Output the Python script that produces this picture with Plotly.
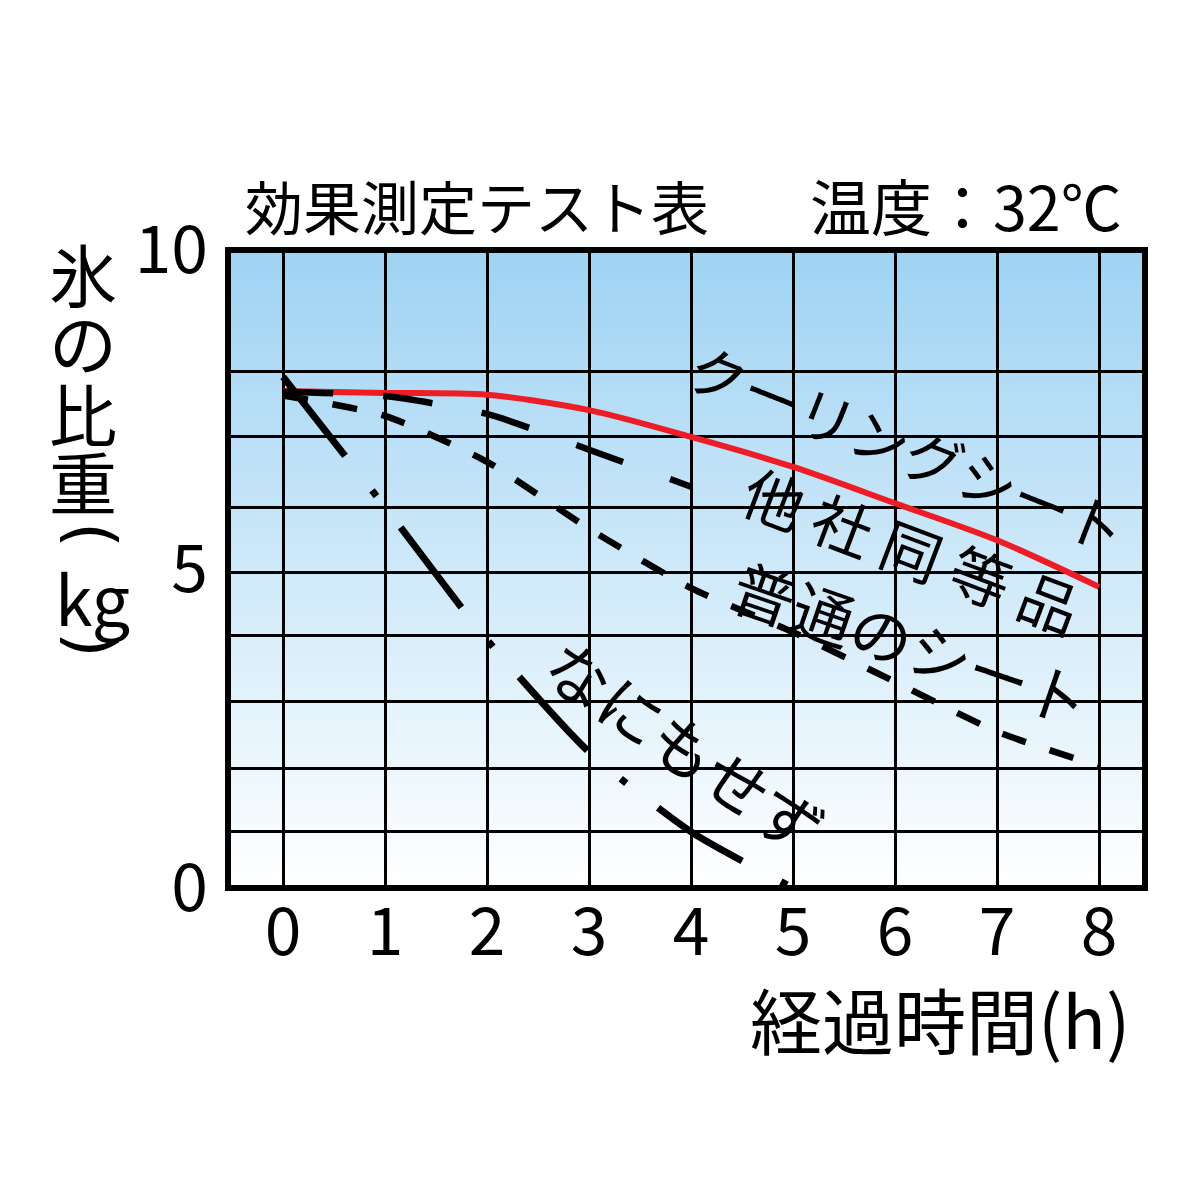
import plotly.graph_objects as go

# ---------------- data ----------------
hours = [0, 1, 2, 3, 4, 5, 6, 7, 8]
cooling_sheet = [7.79, 7.76, 7.73, 7.49, 7.07, 6.60, 6.03, 5.45, 4.72]   # クーリングシート
other_brand = [7.78, 7.71, 7.43, 6.87, 6.29, 5.72, 5.16, 4.60, 4.04]     # 他社同等品
normal_sheet = [7.72, 7.40, 6.68, 5.63, 4.70, 4.01, 3.23, 2.45, 1.91]    # 普通のシート
nothing_hours = [0, 1, 2, 3, 4, 5]
nothing = [8.01, 5.97, 3.89, 2.13, 0.88, 0.0]                             # なにもせず

x_ticks = [0, 1, 2, 3, 4, 5, 6, 7, 8]
y_ticks = [0, 5, 10]
series_labels = ["クーリングシート", "他社同等品", "普通のシート", "なにもせず"]
title_left = "効果測定テスト表"
title_right = "温度：32℃"
x_title = "経過時間(h)"
y_title_parts = ["氷", "の", "比", "重", "(", "kg", ")"]

# ---------------- style / layout ----------------
FONT = "Noto Sans CJK JP"
PAREN_FONT = "DejaVu Sans"
W, H = 1200, 1200
PAGE_OFFSET = 8                              # browser body margin
L, R, T, B = 228, 1145, 250, 888             # plot area in target pixels
y_grid = [0.88, 1.88, 2.92, 3.95, 4.94, 5.96, 7.08, 8.09]


def px_x(px):
    return (px - L) / (R - L)


def px_y(py):
    return (B - py) / (B - T)


fig = go.Figure()

# label covers part of the 他社同等品 line: draw it only where visible
other_visible = [v if h <= 4 else None for h, v in zip(hours, other_brand)]

fig.add_trace(go.Scatter(x=hours, y=cooling_sheet, mode="lines",
                         line=dict(color="#ee1c24", width=6, shape="spline", smoothing=0.8),
                         name=series_labels[0], showlegend=False))
fig.add_trace(go.Scatter(x=hours, y=other_visible, mode="lines",
                         line=dict(color="black", width=6.5, dash="50px,50px", shape="spline", smoothing=0.6),
                         name=series_labels[1], showlegend=False))
fig.add_trace(go.Scatter(x=hours, y=normal_sheet, mode="lines",
                         line=dict(color="black", width=6.5, dash="25px,25px", shape="spline", smoothing=0.6),
                         name=series_labels[2], showlegend=False))
fig.add_trace(go.Scatter(x=nothing_hours, y=nothing, mode="lines",
                         line=dict(color="black", width=7, dash="100px,44px,7px,40px", shape="spline", smoothing=0.6),
                         name=series_labels[3], showlegend=False))

# gradient background
shapes = []
N = 90
top = (158, 211, 243)
bot = (255, 255, 255)
for i in range(N):
    t0 = i / N
    t1 = (i + 1) / N
    tm = (t0 + t1) / 2
    c = tuple(round(bot[k] + (top[k] - bot[k]) * tm) for k in range(3))
    shapes.append(dict(type="rect", xref="paper", yref="paper", x0=0, x1=1,
                       y0=t0, y1=min(1, t1 + 0.002), layer="below",
                       line=dict(width=0), fillcolor="rgb(%d,%d,%d)" % c))
# frame
shapes.append(dict(type="rect", xref="paper", yref="paper", x0=0, x1=1, y0=0, y1=1,
                   layer="above", line=dict(color="black", width=6)))

annotations = []


def ann(text, x, y, size, xanchor="center", yanchor="middle", angle=0, family=FONT):
    annotations.append(dict(text=text, x=px_x(x), y=px_y(y), xref="paper", yref="paper",
                            showarrow=False, xanchor=xanchor, yanchor=yanchor,
                            textangle=angle, font=dict(family=family, size=size, color="black")))


# titles
ann(title_left, 243, 205, 58, xanchor="left")
ann(title_right, 1124, 205, 61, xanchor="right")
ann(x_title, 748, 1017, 72, xanchor="left")

# vertical y-axis title (parentheses turned for vertical writing)
y_pos = [(83, 272), (83, 340), (83, 412), (83, 480), (92, 535), (92, 596), (92, 645)]
for part, (xx, yy) in zip(y_title_parts, y_pos):
    if part in ("(", ")"):
        ann(part, xx, yy, 66, angle=90, family=PAREN_FONT)
    else:
        ann(part, xx, yy, 68)

# series labels along the lines
ann(series_labels[0], 908, 447, 58, angle=21.5)
ann(" ".join(series_labels[1]), 913, 548, 60, angle=20.7)
ann(series_labels[2], 912, 642, 62, angle=19)
ann(series_labels[3], 686, 745, 64, angle=34.5)

fig.update_layout(
    width=W, height=H,
    margin=dict(l=L - PAGE_OFFSET, r=W - R + PAGE_OFFSET,
                t=T - PAGE_OFFSET, b=H - B + PAGE_OFFSET),
    paper_bgcolor="white", plot_bgcolor="rgba(0,0,0,0)",
    font=dict(family=FONT, color="black"),
    shapes=shapes, annotations=annotations, showlegend=False,
    xaxis=dict(range=[-0.54, 8.45], tickmode="array", tickvals=x_ticks,
               showgrid=True, gridcolor="black", gridwidth=3,
               zeroline=False, showline=False, ticks="",
               ticklabelstandoff=0,
               tickfont=dict(family=FONT, size=66, color="black")),
    yaxis=dict(range=[0, 10], tickmode="array", tickvals=y_ticks,
               showgrid=False, zeroline=False, showline=False, ticks="",
               ticklabelstandoff=19,
               tickfont=dict(family=FONT, size=66, color="black"),
               minor=dict(tickmode="array", tickvals=y_grid, showgrid=True,
                          gridcolor="black", gridwidth=3, ticks="")),
)

fig.write_html("out.html")
